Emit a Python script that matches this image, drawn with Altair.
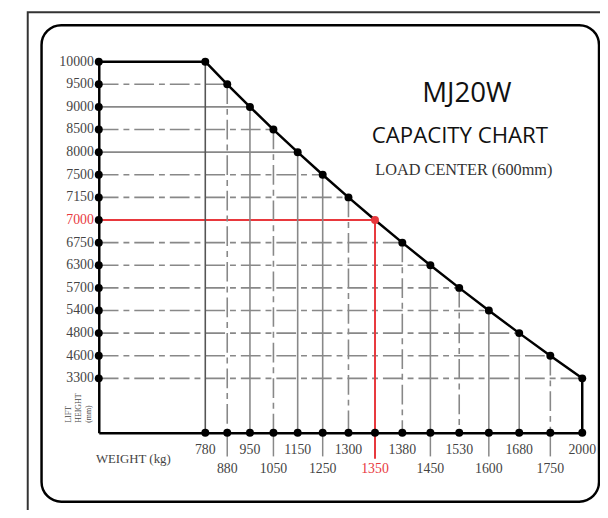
import altair as alt
import pandas as pd

# ---- chart values ----
weights = [780, 880, 950, 1050, 1150, 1250, 1300, 1350, 1380, 1450, 1530, 1600, 1680, 1750, 2000]
heights = [10000, 9500, 9000, 8500, 8000, 7500, 7150, 7000, 6750, 6300, 5700, 5400, 4800, 4600, 3300]
highlight_weight = 1350
highlight_height = 7000
model_name = "MJ20W"
chart_name = "CAPACITY CHART"
load_center = "LOAD  CENTER (600mm)"
x_title = "WEIGHT (kg)"
y_title_lines = ["LIFT", "HEIGHT", "(mm)"]

# ---- styling config ----
solid_rows = [9000, 8000]
solid_cols = [780, 950, 1150, 1250, 1450, 1600, 1680]
GRAY = "#888888"
RED = "#e8383d"
LABEL = "#444444"
SERIF = "Liberation Serif"
SANS = "Open Sans"
DASHDOT = [20, 5, 6, 5]

n = len(weights)
df = pd.DataFrame({"i": list(range(n)), "weight": weights, "height": heights})
df["wlabel"] = df["weight"].astype(str)
df["hlabel"] = df["height"].astype(str)

def row_style(h, k):
    if k == 0:
        return "outline"
    if h == highlight_height:
        return "red"
    if h in solid_rows:
        return "solid"
    return "dashdot"

def col_style(w, k):
    if k == n - 1:
        return "outline"
    if w == highlight_weight:
        return "red"
    if w == weights[0]:
        return "dark"
    if w in solid_cols:
        return "solid"
    return "dashdot"

df["rstyle"] = [row_style(h, k) for k, h in zip(df["i"], df["height"])]
df["cstyle"] = [col_style(w, k) for k, w in zip(df["i"], df["weight"])]

# ---- scales ----
X_OFF = 28.17       # curvature of the printed weight scale
X_LEFT = -5.47      # lift-height axis position, in column steps
Y_BASE = 16.4       # weight axis position, in row steps
XL = X_LEFT + X_OFF
xscale = alt.Scale(type="pow", exponent=2, domain=[XL, n - 1 + X_OFF], zero=False, nice=False)
yscale = alt.Scale(domain=[0, Y_BASE], reverse=True, zero=False, nice=False)
axis_style = dict(domain=True, domainColor="black", domainWidth=2.5, labels=False,
                  ticks=False, grid=False, title=None)
xaxis = alt.Axis(**axis_style)
yaxis = alt.Axis(**axis_style)

def X(field="u:Q"):
    return alt.X(field, scale=xscale, axis=xaxis)

def Y(field="i:Q"):
    return alt.Y(field, scale=yscale, axis=yaxis)

base = alt.Chart(df).transform_calculate(
    u=f"datum.i + {X_OFF}",
    xl=f"{XL}",
    yb=f"{Y_BASE}",
    ytick="17.45",
    yred="17.55",
    yrow="datum.i % 2 == 0 ? 17.18 : 18.0",
)

styles = {
    "outline": dict(color="black", strokeWidth=2.5),
    "red": dict(color=RED, strokeWidth=2),
    "dark": dict(color="#555555", strokeWidth=1.6),
    "solid": dict(color=GRAY, strokeWidth=1.6),
    "dashdot": dict(color=GRAY, strokeWidth=1.6, strokeDash=DASHDOT),
}

layers = []

# horizontal grid lines (axis -> curve point)
for st in ["dashdot", "solid", "red", "outline"]:
    layers.append(base.transform_filter(alt.datum.rstyle == st).mark_rule(**styles[st]).encode(
        x=X("xl:Q"), x2="u:Q", y=Y()))

# vertical grid lines (curve point -> baseline)
for st in ["dashdot", "solid", "dark", "red", "outline"]:
    layers.append(base.transform_filter(alt.datum.cstyle == st).mark_rule(**styles[st]).encode(
        x=X(), y=Y(), y2="yb:Q"))

# short leader lines below the axis for the lower label row
layers.append(base.transform_filter("datum.i % 2 == 1").mark_rule(color=GRAY, strokeWidth=1.5).encode(
    x=X(), y=Y("yb:Q"), y2="ytick:Q"))
layers.append(base.transform_filter(alt.datum.weight == highlight_weight).mark_rule(color=RED, strokeWidth=2).encode(
    x=X(), y=Y("yb:Q"), y2="yred:Q"))

# capacity curve
layers.append(base.mark_line(color="black", strokeWidth=2.5).encode(x=X(), y=Y(), order="i:Q"))

# dots
dot = dict(filled=True, size=65, opacity=1)
layers.append(base.mark_point(color="black", **dot).encode(x=X("xl:Q"), y=Y()))
layers.append(base.mark_point(color="black", **dot).encode(x=X(), y=Y("yb:Q")))
layers.append(base.mark_point(**dot).encode(
    x=X(), y=Y(),
    color=alt.condition(alt.datum.weight == highlight_weight, alt.value(RED), alt.value("black"))))

# lift height labels
layers.append(base.mark_text(align="right", baseline="middle", font=SERIF, fontSize=14).encode(
    x=alt.value(-5), y=Y(), text="hlabel:N",
    color=alt.condition(alt.datum.height == highlight_height, alt.value(RED), alt.value(LABEL))))

# weight labels, two staggered rows
layers.append(base.mark_text(align="center", baseline="middle", font=SERIF, fontSize=14).encode(
    x=X(), y=Y("yrow:Q"), text="wlabel:N",
    color=alt.condition(alt.datum.weight == highlight_weight, alt.value(RED), alt.value(LABEL))))

# frames, titles (decoration)
one = pd.DataFrame({"k": [0]})
layers.append(alt.Chart(one).mark_rect(fillOpacity=0, stroke="#333333", strokeWidth=2).encode(
    x=alt.value(-72), x2=alt.value(530), y=alt.value(-50), y2=alt.value(457)))
layers.append(alt.Chart(one).mark_rect(fillOpacity=0, stroke="black", strokeWidth=2.5, cornerRadius=20).encode(
    x=alt.value(-58), x2=alt.value(507), y=alt.value(-37), y2=alt.value(446)))

layers.append(alt.Chart(one).mark_text(text=x_title, align="center", baseline="middle",
                                       font=SERIF, fontSize=13, color=LABEL).encode(
    x=alt.value(35), y=alt.value(403)))
for k, line in enumerate(y_title_lines):
    layers.append(alt.Chart(one).mark_text(text=line, angle=270, align="left", baseline="middle",
                                           font=SERIF, fontSize=8, color=LABEL).encode(
        x=alt.value(-30 + 10 * k), y=alt.value(366)))

layers.append(alt.Chart(one).mark_text(text=model_name, align="center", baseline="middle",
                                       font=SANS, fontSize=28, color="#111111").encode(
    x=alt.value(373), y=alt.value(33)))
layers.append(alt.Chart(one).mark_text(text=chart_name, align="center", baseline="middle",
                                       font=SANS, fontSize=22.5, color="#111111").encode(
    x=alt.value(366), y=alt.value(75)))
layers.append(alt.Chart(one).mark_text(text=load_center, align="center", baseline="middle",
                                       font=SERIF, fontSize=16.5, color="#333333").encode(
    x=alt.value(370), y=alt.value(110)))

chart = alt.layer(*layers).properties(
    width=490, height=376,
    autosize=alt.AutoSizeParams(type="none"),
    padding={"left": 92, "top": 51, "right": 18, "bottom": 75},
    background="white",
).configure_view(stroke=None)

chart.save("out.html", embed_options={"renderer": "svg", "actions": False})
